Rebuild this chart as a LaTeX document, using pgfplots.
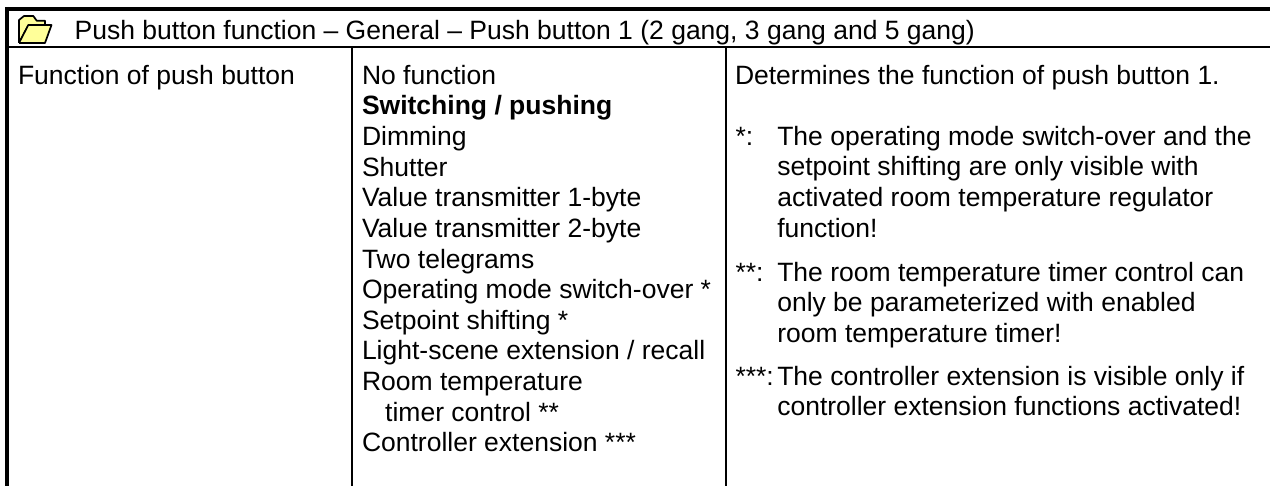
\documentclass[border=0pt]{standalone}
\usepackage{pgfplots}
\pgfplotsset{compat=1.18}
\usepackage{fontspec}
\setmainfont{Liberation Sans}
\definecolor{folder}{RGB}{255,255,153}
\newcommand{\T}[3]{\node[anchor=base west,inner sep=0pt,outer sep=0pt,font=\fontsize{26.5}{30}\selectfont] at (axis cs:#1,#2) {#3};}
\begin{document}
\begin{tikzpicture}
\path[use as bounding box] (0,0) rectangle (1270pt,486pt);
\begin{axis}[at={(0,0)},anchor=south west,hide axis,scale only axis,width=1270pt,height=486pt,xmin=0,xmax=1270,ymin=0,ymax=486,y dir=reverse,clip=false]
\addplot[black,line width=4.4pt,forget plot] coordinates {(5,8.9) (1270,8.9)};
\addplot[black,line width=4.5pt,forget plot] coordinates {(7.15,7) (7.15,486)};
\addplot[black,line width=2.4pt,forget plot] coordinates {(7,47.3) (1270,47.3)};
\addplot[black,line width=2pt,forget plot] coordinates {(352.3,47) (352.3,486)};
\addplot[black,line width=2pt,forget plot] coordinates {(725.8,47) (725.8,486)};
% folder
\addplot[black,line width=1.7pt,fill=folder,line join=round,forget plot] coordinates {(19,43) (19,20) (24,16) (33.3,16) (36.7,20.7) (45,20.7) (45,26) (28,26) (19,43)};
\addplot[black,line width=1.7pt,fill=folder,line join=round,forget plot] coordinates {(19,43) (28.3,25) (51.5,25) (45,43) (19,43)};
\T{74.7}{39.3}{Push button function -- General -- Push button 1 (2 gang, 3 gang and 5 gang)}
\T{18}{84.3}{Function of push button}
\T{362}{84.3}{No function}
\T{362}{115}{\bfseries Switching / pushing}
\T{362}{145.6}{Dimming}
\T{362}{176.2}{Shutter}
\T{362}{206.9}{Value transmitter 1-byte}
\T{362}{237.5}{Value transmitter 2-byte}
\T{362}{268.1}{Two telegrams}
\T{362}{298.8}{Operating mode switch-over *}
\T{362}{329.4}{Setpoint shifting *}
\T{362}{360}{Light-scene extension / recall}
\T{362}{390.7}{Room temperature}
\T{385.2}{421.3}{timer control **}
\T{362}{452}{Controller extension ***}
\T{735}{84.3}{Determines the function of push button 1.}
\T{735.5}{145.3}{*:}
\T{777.3}{145.3}{The operating mode switch-over and the}
\T{777.3}{176}{setpoint shifting are only visible with}
\T{777.3}{206.6}{activated room temperature regulator}
\T{777.3}{237.6}{function!}
\T{735.5}{281.2}{**:}
\T{777.3}{281.2}{The room temperature timer control can}
\T{777.3}{311.6}{only be parameterized with enabled}
\T{777.3}{342.2}{room temperature timer!}
\T{735.5}{385.2}{***:}
\T{777.3}{385.2}{The controller extension is visible only if}
\T{777.3}{415.8}{controller extension functions activated!}
\end{axis}
\end{tikzpicture}
\end{document}
